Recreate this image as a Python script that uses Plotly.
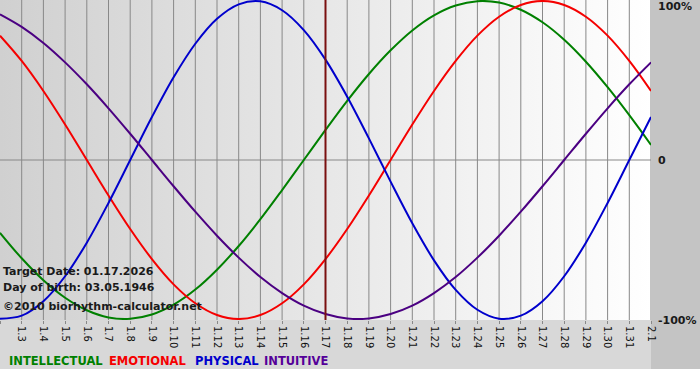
import plotly.graph_objects as go

# ---- data ----
day_index = list(range(31))
tick_labels = ["1.2", "1.3", "1.4", "1.5", "1.6", "1.7", "1.8", "1.9", "1.10", "1.11",
               "1.12", "1.13", "1.14", "1.15", "1.16", "1.17", "1.18", "1.19", "1.20",
               "1.21", "1.22", "1.23", "1.24", "1.25", "1.26", "1.27", "1.28", "1.29",
               "1.30", "1.31", "2.1"]

intellectual = [-0.458, -0.618, -0.756, -0.866, -0.945, -0.990, -0.999, -0.972, -0.910, -0.815,
                -0.690, -0.541, -0.372, -0.189, 0.000, 0.189, 0.372, 0.541, 0.690, 0.815,
                0.910, 0.972, 0.999, 0.990, 0.945, 0.866, 0.756, 0.618, 0.458, 0.282, 0.095]
emotional = [0.782, 0.623, 0.434, 0.223, 0.000, -0.223, -0.434, -0.623, -0.782, -0.901,
             -0.975, -1.000, -0.975, -0.901, -0.782, -0.623, -0.434, -0.223, 0.000, 0.223,
             0.434, 0.623, 0.782, 0.901, 0.975, 1.000, 0.975, 0.901, 0.782, 0.623, 0.434]
physical = [-0.998, -0.979, -0.888, -0.731, -0.520, -0.270, 0.000, 0.270, 0.520, 0.731,
            0.888, 0.979, 0.998, 0.942, 0.817, 0.631, 0.398, 0.136, -0.136, -0.398,
            -0.631, -0.817, -0.942, -0.998, -0.979, -0.888, -0.731, -0.520, -0.270, 0.000, 0.270]
intuitive = [0.916, 0.837, 0.736, 0.614, 0.476, 0.325, 0.165, 0.000, -0.165, -0.325,
             -0.476, -0.614, -0.736, -0.837, -0.916, -0.969, -0.997, -0.997, -0.969, -0.916,
             -0.837, -0.736, -0.614, -0.476, -0.325, -0.165, 0.000, 0.165, 0.325, 0.476, 0.614]

series_names = ["INTELLECTUAL", "EMOTIONAL", "PHYSICAL", "INTUITIVE"]
series_colors = ["#008000", "#f50000", "#0000cc", "#4b0082"]
legend_colors = ["#008000", "#f50000", "#0000cc", "#550099"]
target_index = 15  # 1.17
info_lines = ["Target Date: 01.17.2026", "Day of birth: 03.05.1946", "©2010 biorhythm-calculator.net"]

FONT = "Verdana, DejaVu Sans, sans-serif"
Y_PAD = 1.00625
GRID = "#888888"

fig = go.Figure()

# background gradient for plot area
x0, x1 = day_index[0], day_index[-1]
fig.add_trace(go.Scatter(
    x=[x0, x1, x1, x0, x0], y=[-Y_PAD, -Y_PAD, Y_PAD, Y_PAD, -Y_PAD],
    mode="lines", line=dict(width=0), fill="toself",
    fillgradient=dict(type="horizontal", colorscale=[[0, "#d0d0d0"], [1, "#ffffff"]]),
    hoverinfo="skip", showlegend=False))

# grid lines (drawn above the gradient, below the curves)
gx, gy = [], []
for d in day_index[1:]:
    gx += [d, d, None]
    gy += [-Y_PAD, Y_PAD, None]
gx += [x0, x1, None]
gy += [0, 0, None]
fig.add_trace(go.Scatter(x=gx, y=gy, mode="lines", line=dict(color=GRID, width=1),
                         hoverinfo="skip", showlegend=False))

for name, vals, col in zip(series_names, [intellectual, emotional, physical, intuitive], series_colors):
    fig.add_trace(go.Scatter(x=day_index, y=vals, mode="lines", name=name,
                             line=dict(color=col, width=2, shape="spline", smoothing=1),
                             showlegend=False))

fig.add_shape(type="line", xref="x", yref="y", x0=day_index[target_index], x1=day_index[target_index],
              y0=-Y_PAD, y1=Y_PAD, line=dict(color="#7a1010", width=2), layer="above")

# bottom label band and white strip
fig.add_shape(type="rect", xref="paper", yref="paper", x0=0, x1=1, y0=-49 / 320, y1=0,
              fillcolor="#d8d8d8", line=dict(width=0), layer="below")
fig.add_shape(type="rect", xref="paper", yref="paper", x0=0, x1=700 / 651, y0=-60 / 320, y1=-49 / 320,
              fillcolor="#ffffff", line=dict(width=0), layer="below")

annotations = []
for txt, py in zip(info_lines, [271, 287, 306]):
    annotations.append(dict(text=txt, xref="paper", yref="paper", x=0, y=(320 - py) / 320,
                            xanchor="left", yanchor="middle", xshift=1, showarrow=False,
                            font=dict(family=FONT, size=11, color="#1a1a1a", weight="bold")))
for txt, yv, ys in [("100%", 1, -6), ("0", 0, 0), ("-100%", -1, -1)]:
    annotations.append(dict(text=txt, xref="paper", yref="y", x=1, y=yv, xanchor="left",
                            yanchor="middle", xshift=5, yshift=ys, showarrow=False,
                            font=dict(family=FONT, size=11, color="#1a1a1a", weight="bold")))
lx = [7, 107, 193, 262]
for name, col, px in zip(series_names, legend_colors, lx):
    annotations.append(dict(text=name, xref="paper", yref="paper", x=px / 651, y=(320 - 361) / 320,
                            xanchor="left", yanchor="middle", showarrow=False,
                            font=dict(family=FONT, size=11.5, color=col, weight="bold")))

fig.update_layout(
    width=700, height=380,
    margin=dict(l=0, r=49, t=0, b=60),
    paper_bgcolor="#c4c4c4", plot_bgcolor="#ffffff",
    showlegend=False,
    annotations=annotations,
    xaxis=dict(range=[x0, x1], tickvals=day_index, ticktext=tick_labels, tickangle=90,
               showgrid=False, zeroline=False,
               ticks="outside", ticklen=3, tickcolor=GRID,
               tickfont=dict(family=FONT, size=10, color="#111111"), showline=False),
    yaxis=dict(range=[-Y_PAD, Y_PAD], showticklabels=False, showgrid=False,
               zeroline=False, showline=False),
)

fig.write_html("out.html")
